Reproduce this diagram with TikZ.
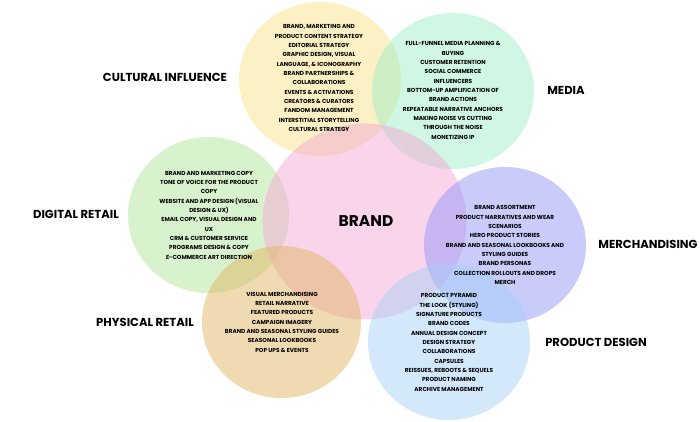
\documentclass[tikz,border=0pt]{standalone}
\usepackage{fontspec}
\setmainfont{Poppins}
\definecolor{culturalc}{RGB}{249,227,137}
\definecolor{mediac}{RGB}{161,237,201}
\definecolor{digitalc}{RGB}{179,229,157}
\definecolor{brandc}{RGB}{243,169,213}
\definecolor{physicalc}{RGB}{225,181,101}
\definecolor{merchc}{RGB}{147,151,247}
\definecolor{designc}{RGB}{167,209,247}
\tikzset{
  blob/.style={fill opacity=0.5, draw=none},
  items/.style={align=center, inner sep=0pt, font=\fontsize{5.8}{9.33}\selectfont\bfseries},
  area/.style={inner sep=0pt, font=\fontsize{11.6}{13}\selectfont\bfseries},
  core/.style={inner sep=0pt, font=\fontsize{15.5}{18}\selectfont\bfseries},
}
\begin{document}
\begin{tikzpicture}[x=1pt, y=-1pt]
  \useasboundingbox (0,0) rectangle (700,421);
  % --- translucent discs (centres and radii in px of the 700x421 frame) ---
  \fill[blob, culturalc] (320,79)    ellipse [x radius=81pt,  y radius=77pt];
  \fill[blob, mediac]    (453,91)    ellipse [x radius=81pt,  y radius=78pt];
  \fill[blob, digitalc]  (208.5,215) ellipse [x radius=80.5pt,y radius=78pt];
  \fill[blob, brandc]    (364.5,221.5) ellipse [x radius=102pt, y radius=98pt];
  \fill[blob, physicalc] (281.5,322) ellipse [x radius=79.5pt,y radius=76pt];
  \fill[blob, merchc]    (505,245)   ellipse [x radius=81pt,  y radius=78pt];
  \fill[blob, designc]   (449,342)   ellipse [x radius=81pt,  y radius=78pt];

  % --- centre ---
  \node[core] (brand) at (366,221) {BRAND};

  % --- area titles ---
  \node[area] (cultural) at (165,77)  {CULTURAL INFLUENCE};
  \node[area] (media)    at (566,90)  {MEDIA};
  \node[area] (digital)  at (76,214)  {DIGITAL RETAIL};
  \node[area] (physical) at (145,322) {PHYSICAL RETAIL};
  \node[area] (merch)    at (648,244) {MERCHANDISING};
  \node[area] (design)   at (596,342) {PRODUCT DESIGN};

  % --- item lists inside each disc ---
  \node[items] (culturallist) at (319,78) {BRAND, MARKETING AND\\PRODUCT CONTENT STRATEGY\\EDITORIAL STRATEGY\\GRAPHIC DESIGN, VISUAL\\LANGUAGE, \& ICONOGRAPHY\\BRAND PARTNERSHIPS \&\\COLLABORATIONS\\EVENTS \& ACTIVATIONS\\CREATORS \& CURATORS\\FANDOM MANAGEMENT\\INTERSTITIAL STORYTELLING\\CULTURAL STRATEGY};
  \node[items] (medialist) at (453,90.5) {FULL-FUNNEL MEDIA PLANNING \&\\BUYING\\CUSTOMER RETENTION\\SOCIAL COMMERCE\\INFLUENCERS\\BOTTOM-UP AMPLIFICATION OF\\BRAND ACTIONS\\REPEATABLE NARRATIVE ANCHORS\\MAKING NOISE VS CUTTING\\THROUGH THE NOISE\\MONETIZING IP};
  \node[items] (digitallist) at (209,215) {BRAND AND MARKETING COPY\\TONE OF VOICE FOR THE PRODUCT\\COPY\\WEBSITE AND APP DESIGN (VISUAL\\DESIGN \& UX)\\EMAIL COPY, VISUAL DESIGN AND\\UX\\CRM \& CUSTOMER SERVICE\\PROGRAMS DESIGN \& COPY\\E-COMMERCE ART DIRECTION};
  \node[items] (physicallist) at (282,322) {VISUAL MERCHANDISING\\RETAIL NARRATIVE\\FEATURED PRODUCTS\\CAMPAIGN IMAGERY\\BRAND AND SEASONAL STYLING GUIDES\\SEASONAL LOOKBOOKS\\POP UPS \& EVENTS};
  \node[items] (merchlist) at (505,245) {BRAND ASSORTMENT\\PRODUCT NARRATIVES AND WEAR\\SCENARIOS\\HERO PRODUCT STORIES\\BRAND AND SEASONAL LOOKBOOKS AND\\STYLING GUIDES\\BRAND PERSONAS\\COLLECTION ROLLOUTS AND DROPS\\MERCH};
  \node[items] (designlist) at (449,342.5) {PRODUCT PYRAMID\\THE LOOK (STYLING)\\SIGNATURE PRODUCTS\\BRAND CODES\\ANNUAL DESIGN CONCEPT\\DESIGN STRATEGY\\COLLABORATIONS\\CAPSULES\\REISSUES, REBOOTS \& SEQUELS\\PRODUCT NAMING\\ARCHIVE MANAGEMENT};
\end{tikzpicture}
\end{document}
